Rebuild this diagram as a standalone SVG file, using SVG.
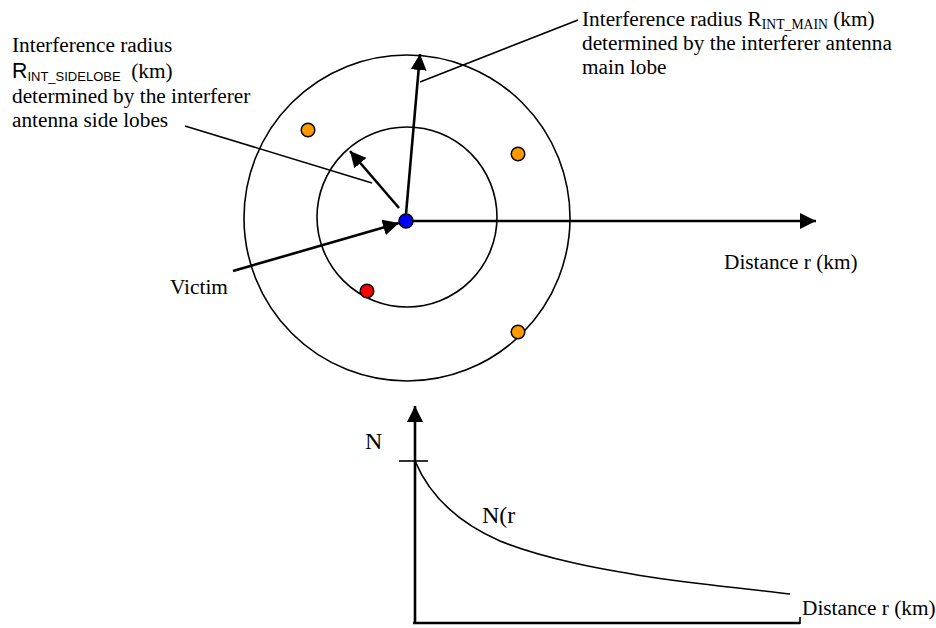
<svg xmlns="http://www.w3.org/2000/svg" width="936" height="628" viewBox="0 0 936 628">
<style>
.t{font-family:"Liberation Serif","Times New Roman",serif;font-size:21.3px;fill:#000}
.big{font-size:24px}
.s{font-family:"Liberation Sans",Arial,sans-serif;fill:#000}
.ring{fill:none;stroke:#000;stroke-width:1.6}
.dot{stroke:#000;stroke-width:1.5}
.arr{stroke:#000;stroke-width:2.6;fill:none}
.thin{stroke:#000;stroke-width:1.6;fill:none}
</style>
<defs>
<marker id="ah" viewBox="0 0 16 16" refX="16" refY="8" markerWidth="16" markerHeight="16" markerUnits="userSpaceOnUse" orient="auto">
<path d="M0,0 L16,8 L0,16 z" fill="#000"/>
</marker>
</defs>
<rect width="936" height="628" fill="#fff"/>
<g id="outer-circle"><circle class="ring" cx="407" cy="218" r="163"/></g>
<g id="inner-circle"><circle class="ring" cx="407" cy="217" r="90"/></g>
<g id="connectors">
<line class="arr" x1="413" y1="221" x2="816" y2="221" marker-end="url(#ah)"/>
<line class="arr" x1="406" y1="214" x2="420" y2="54" marker-end="url(#ah)"/>
<line class="arr" x1="399" y1="208" x2="350" y2="151" marker-end="url(#ah)"/>
<line class="arr" x1="233" y1="271" x2="399" y2="223" marker-end="url(#ah)"/>
<line class="thin" x1="420" y1="82" x2="578" y2="20"/>
<line class="thin" x1="185" y1="126" x2="372" y2="183"/>
<line class="arr" x1="415" y1="624" x2="415" y2="406" marker-end="url(#ah)"/>
<line class="arr" x1="413" y1="623" x2="800" y2="623"/>
<line class="thin" x1="800" y1="617" x2="800" y2="624"/>
<line class="thin" x1="399" y1="461" x2="428" y2="461"/>
<path class="thin" d="M415,461 C428,492 452,520 500,541 C545,559 600,569 650,577 C710,586 760,590 790,594"/>
</g>
<g id="victim"><circle class="dot" cx="406" cy="221" r="7" fill="#0000ff"/></g>
<g id="interferer-1"><circle class="dot" cx="308" cy="130" r="6.8" fill="#ff9900"/></g>
<g id="interferer-2"><circle class="dot" cx="518" cy="154" r="6.8" fill="#ff9900"/></g>
<g id="interferer-3"><circle class="dot" cx="518" cy="332" r="6.8" fill="#ff9900"/></g>
<g id="interferer-4"><circle class="dot" cx="367" cy="291" r="6.8" fill="#ff0000"/></g>
<g id="label-sidelobe">
<text class="t" x="12" y="52">Interference radius</text>
<text class="t" x="12" y="78"><tspan class="s" font-size="21.3">R</tspan><tspan class="s" font-size="13" dy="3">INT_SIDELOBE</tspan><tspan dy="-3" xml:space="preserve">  (km)</tspan></text>
<text class="t" x="12" y="103">determined by the interferer</text>
<text class="t" x="12" y="127">antenna side lobes</text>
</g>
<g id="label-main">
<text class="t" x="582" y="26">Interference radius R<tspan font-size="13.7" dy="3">INT_MAIN</tspan><tspan dy="-3"> (km)</tspan></text>
<text class="t" x="582" y="50">determined by the interferer antenna</text>
<text class="t" x="582" y="74">main lobe</text>
</g>
<g id="label-victim"><text class="t" x="170" y="294">Victim</text></g>
<g id="label-distance-top"><text class="t" x="724" y="269">Distance r (km)</text></g>
<g id="label-N"><text class="t big" x="365" y="449">N</text></g>
<g id="label-Nr"><text class="t big" x="482" y="523">N(r</text></g>
<g id="label-distance-bottom"><text class="t" x="802" y="615">Distance r (km)</text></g>
</svg>
